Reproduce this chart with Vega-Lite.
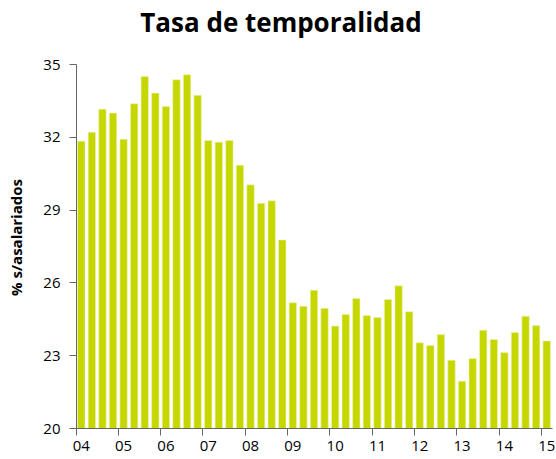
{
  "$schema": "https://vega.github.io/schema/vega-lite/v6.json",
  "width": 476,
  "height": 364,
  "autosize": "none",
  "padding": {"left": 76, "top": 64, "right": 4, "bottom": 31},
  "background": "white",
  "title": {
    "text": "Tasa de temporalidad",
    "font": "Open Sans",
    "fontSize": 26,
    "fontWeight": "bold",
    "color": "#000000",
    "anchor": "middle",
    "frame": "group",
    "dx": -33,
    "offset": 20
  },
  "data": {
    "values": [
      {"t": "04T1", "v": 31.82}, {"t": "04T2", "v": 32.19}, {"t": "04T3", "v": 33.14}, {"t": "04T4", "v": 32.98},
      {"t": "05T1", "v": 31.9}, {"t": "05T2", "v": 33.36}, {"t": "05T3", "v": 34.49}, {"t": "05T4", "v": 33.8},
      {"t": "06T1", "v": 33.25}, {"t": "06T2", "v": 34.35}, {"t": "06T3", "v": 34.56}, {"t": "06T4", "v": 33.71},
      {"t": "07T1", "v": 31.85}, {"t": "07T2", "v": 31.78}, {"t": "07T3", "v": 31.85}, {"t": "07T4", "v": 30.83},
      {"t": "08T1", "v": 30.02}, {"t": "08T2", "v": 29.26}, {"t": "08T3", "v": 29.36}, {"t": "08T4", "v": 27.75},
      {"t": "09T1", "v": 25.16}, {"t": "09T2", "v": 25.02}, {"t": "09T3", "v": 25.68}, {"t": "09T4", "v": 24.93},
      {"t": "10T1", "v": 24.2}, {"t": "10T2", "v": 24.68}, {"t": "10T3", "v": 25.34}, {"t": "10T4", "v": 24.64},
      {"t": "11T1", "v": 24.55}, {"t": "11T2", "v": 25.3}, {"t": "11T3", "v": 25.86}, {"t": "11T4", "v": 24.79},
      {"t": "12T1", "v": 23.51}, {"t": "12T2", "v": 23.4}, {"t": "12T3", "v": 23.85}, {"t": "12T4", "v": 22.79},
      {"t": "13T1", "v": 21.93}, {"t": "13T2", "v": 22.86}, {"t": "13T3", "v": 24.03}, {"t": "13T4", "v": 23.65},
      {"t": "14T1", "v": 23.11}, {"t": "14T2", "v": 23.94}, {"t": "14T3", "v": 24.61}, {"t": "14T4", "v": 24.22},
      {"t": "15T1", "v": 23.59}
    ]
  },
  "mark": {"type": "bar", "width": {"band": 0.7}, "color": "#c6d700", "stroke": "#eef3b8", "strokeWidth": 0.6, "clip": true},
  "encoding": {
    "x": {
      "field": "t",
      "type": "ordinal",
      "sort": null,
      "scale": {"paddingInner": 0, "paddingOuter": 0},
      "axis": {
        "title": null,
        "values": ["04T1","05T1","06T1","07T1","08T1","09T1","10T1","11T1","12T1","13T1","14T1","15T1"],
        "labelExpr": "slice(datum.value, 0, 2)",
        "bandPosition": 0,
        "labelAngle": 0,
        "labelAlign": "center",
        "labelFont": "Open Sans",
        "labelFontSize": 15,
        "labelColor": "#000000",
        "labelPadding": 3,
        "tickSize": 7,
        "tickColor": "#666666",
        "domainColor": "#666666",
        "grid": false
      }
    },
    "y": {
      "field": "v",
      "type": "quantitative",
      "scale": {"domain": [20, 35], "nice": false, "zero": false},
      "axis": {
        "title": "% s/asalariados",
        "titleFont": "Open Sans",
        "titleFontSize": 15,
        "titleFontWeight": "bold",
        "titleColor": "#000000",
        "titlePadding": 18,
        "titleY": 173,
        "values": [20, 23, 26, 29, 32, 35],
        "labelFont": "Open Sans",
        "labelFontSize": 15,
        "labelColor": "#000000",
        "labelPadding": 9,
        "tickSize": 7,
        "tickColor": "#666666",
        "domainColor": "#666666",
        "grid": false
      }
    }
  },
  "config": {"view": {"stroke": null}}
}
